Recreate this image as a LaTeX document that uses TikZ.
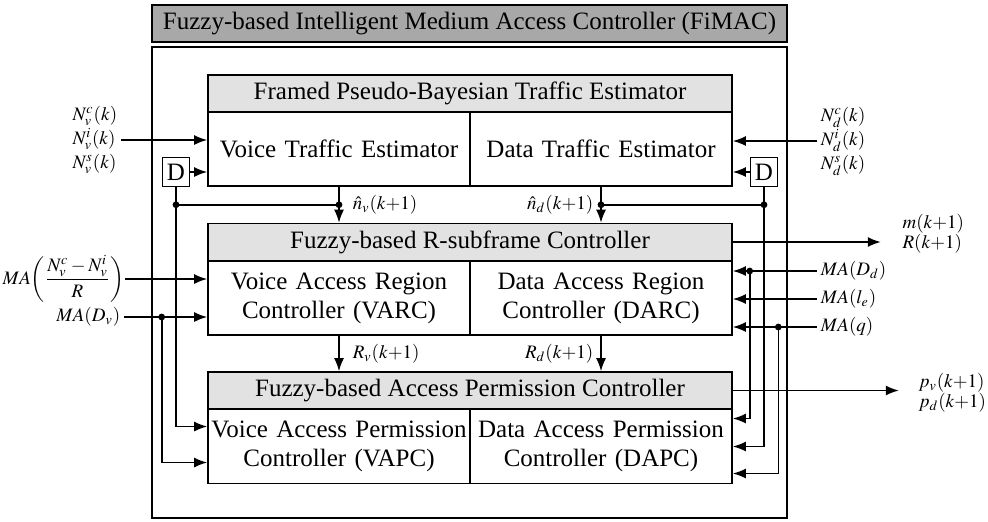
\documentclass[tikz,border=0pt]{standalone}
\usepackage{mathptmx}
\usepackage{fontspec}
\setmainfont{Liberation Serif}
\usetikzlibrary{arrows.meta,calc}

\definecolor{bargray}{RGB}{168,168,168}
\definecolor{headgray}{RGB}{226,226,226}

\begin{document}
\begin{tikzpicture}[x=0.5pt,y=-0.5pt,line width=0.8pt,
    font=\fontsize{12.5}{14.5}\selectfont]
   \tikzstyle{box}=[draw,inner sep=0pt,align=center]
   \tikzstyle{head}=[box,fill=headgray,minimum width=262pt,minimum height=18.5pt]
   \tikzstyle{half}=[box,text width=131pt,minimum height=37pt]
   \tikzstyle{delay}=[box,minimum width=13.5pt,minimum height=14.5pt]
   \tikzstyle{sig}=[inner sep=1.5pt,font=\fontsize{9.5}{12}\selectfont]
   \tikzstyle{arr}=[-{Latex[length=6.5pt,width=5pt]}]
\useasboundingbox (0,0) rectangle (988,521);

% frame and title
\node[box,fill=bargray,minimum width=317.5pt,minimum height=18.5pt] (fimac) at (469.5,23.5)
  {Fuzzy-based Intelligent Medium Access Controller (FiMAC)};
\node[box,minimum width=317.5pt,minimum height=235.5pt] (frame) at (469.5,282.5) {};

% the three blocks
\node[head] (fpbte) at (470,93.5) {Framed Pseudo-Bayesian Traffic Estimator};
\node[half] (vte) at (339,149) {Voice Traffic Estimator};
\node[half] (dte) at (601,149) {Data Traffic Estimator};

\node[head] (rsc) at (470,242) {Fuzzy-based R-subframe Controller};
\node[half] (varc) at (339,298) {Voice Access Region\\Controller (VARC)};
\node[half] (darc) at (601,298) {Data Access Region\\Controller (DARC)};

\node[head] (apc) at (470,390.5) {Fuzzy-based Access Permission Controller};
\node[half] (vapc) at (339,446.5) {Voice Access Permission\\Controller (VAPC)};
\node[half] (dapc) at (601,446.5) {Data Access Permission\\Controller (DAPC)};

\node[delay] (dv) at (176,172) {D};
\node[delay] (dd) at (764,172) {D};

% inputs on the left
\node[sig,anchor=east,align=left] (nv) at (121,140) {$N_v^c(k)$\\$N_v^i(k)$\\$N_v^s(k)$};
\node[sig,anchor=east,inner sep=0pt] (mafrac) at (125,279)
  {$MA\!\left(\displaystyle\frac{N_v^c-N_v^i}{R}\right)$};
\node[sig,anchor=east] (madv) at (124,317) {$MA(D_v)$};

% inputs on the right
\node[sig,anchor=west,align=left] (nd) at (817,141) {$N_d^c(k)$\\$N_d^i(k)$\\$N_d^s(k)$};
\node[sig,anchor=west] (madd) at (817,271) {$MA(D_d)$};
\node[sig,anchor=west] (male) at (817,299) {$MA(l_e)$};
\node[sig,anchor=west] (maq) at (817,327) {$MA(q)$};

% outputs
\coordinate (mrend) at ($(rsc.east)+(148,0)$);
\coordinate (pend) at ($(apc.east)+(166,0)$);
\node[sig,anchor=west,align=left] at ($(mrend)+(18,-8)$) {$m(k{+}1)$\\[-2pt]$R(k{+}1)$};
\node[sig,anchor=west,align=left] at ($(pend)+(16,2)$) {$p_v(k{+}1)$\\[-2pt]$p_d(k{+}1)$};

% junctions
\coordinate (jdv) at (madv -| dv.west);
\coordinate (jdd) at (madd -| dd.west);
\coordinate (jq) at (maq -| dd.east);

% estimator paths
\draw[arr] (nv) -- (nv -| vte.west);
\draw[arr] (nd) -- (nd -| dte.east);
\draw[arr] (dv) -- (dv -| vte.west);
\draw[arr] (dd) -- (dd -| dte.east);
\draw[arr] (vte.south) -- coordinate (jnv) node[sig,right=5pt] {$\hat{n}_v(k{+}1)$} (vte.south |- rsc.north);
\draw[arr] (dte.south) -- coordinate (jnd) node[sig,left=2pt] {$\hat{n}_d(k{+}1)$} (dte.south |- rsc.north);
\coordinate (jvd) at (jnv -| dv.south);
\coordinate (jdd2) at (jnd -| dd.south);
\draw (jnv) -- (jvd);
\draw (jnd) -- (jdd2);

% region controller paths
\draw[arr] (mafrac) -- (mafrac -| varc.west);
\draw[arr] (madv) -- (madv -| varc.west);
\draw[arr] (madd) -- (madd -| darc.east);
\draw[arr] (male) -- (male -| darc.east);
\draw[arr] (maq) -- (maq -| darc.east);
\draw[arr] (varc.south) -- node[sig,right=5pt] {$R_v(k{+}1)$} (varc.south |- apc.north);
\draw[arr] (darc.south) -- node[sig,left=2pt] {$R_d(k{+}1)$} (darc.south |- apc.north);

% permission controller paths
\draw[arr] (dv.south) |- ($(vapc.west)+(0,-20)$);
\draw[arr] (jdv) |- ($(vapc.west)+(0,16)$);
\draw[arr] (jdd) |- ($(dapc.east)+(0,-28)$);
\draw[arr] (dd.south) |- (dapc.east);
\draw[arr] (jq) |- ($(dapc.east)+(0,27)$);

\draw[arr] (rsc.east) -- (mrend);
\draw[arr] (apc.east) -- (pend);

\foreach \j in {jnv,jvd,jnd,jdd2,jdv,jdd,jq}
  \fill (\j) circle (1.7pt);
\end{tikzpicture}
\end{document}
